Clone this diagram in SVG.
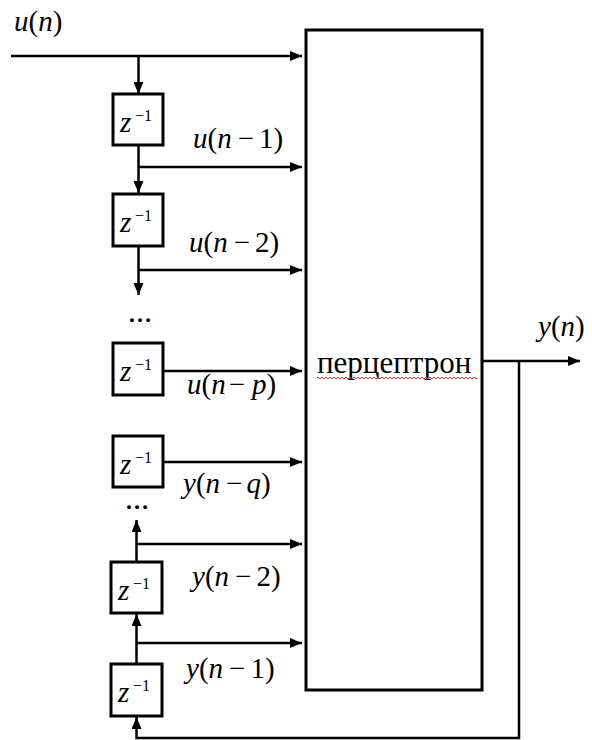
<svg xmlns="http://www.w3.org/2000/svg" width="592" height="740" viewBox="0 0 592 740">
  <style>
    .ln { fill: none; stroke: #000; stroke-width: 2.5; }
    .bx { fill: #fff; stroke: #000; stroke-width: 3; }
    text { font-family: 'Liberation Serif', 'Times New Roman', Tinos, 'Noto Serif', 'DejaVu Serif', FreeSerif, serif; fill: #000; }
    .lbl { font-size: 29px; }
    .i { font-style: italic; }
    .z { font-size: 29px; font-style: italic; }
    .sup { font-size: 16px; }
    .dots { font-size: 24px; font-weight: bold; }
  </style>
  <defs>
    <marker id="arr" viewBox="0 0 12 10" refX="12" refY="5" markerWidth="12" markerHeight="10" markerUnits="userSpaceOnUse" orient="auto">
      <path d="M0,0 L12,5 L0,10 z" fill="#000"/>
    </marker>
  </defs>

  <!-- connectors -->
  <g id="connectors">
    <path class="ln" d="M11,56 H302" marker-end="url(#arr)"/>
    <path class="ln" d="M138.5,56 V94" marker-end="url(#arr)"/>
    <path class="ln" d="M138.5,145 V193" marker-end="url(#arr)"/>
    <path class="ln" d="M138.5,167 H302" marker-end="url(#arr)"/>
    <path class="ln" d="M138.5,246 V295" marker-end="url(#arr)"/>
    <path class="ln" d="M138.5,270 H302" marker-end="url(#arr)"/>
    <path class="ln" d="M164,371 H302" marker-end="url(#arr)"/>
    <path class="ln" d="M164,462 H302" marker-end="url(#arr)"/>
    <path class="ln" d="M136.5,562 V520" marker-end="url(#arr)"/>
    <path class="ln" d="M136.5,544 H302" marker-end="url(#arr)"/>
    <path class="ln" d="M136.5,664 V614" marker-end="url(#arr)"/>
    <path class="ln" d="M136.5,643 H302" marker-end="url(#arr)"/>
    <path class="ln" d="M483,361 H580" marker-end="url(#arr)"/>
    <path class="ln" d="M519,361 V738 H136.5 V717" marker-end="url(#arr)"/>
  </g>

  <!-- perceptron block -->
  <g id="perceptron">
    <rect class="bx" x="306" y="30" width="176" height="660"/>
    <text x="317" y="373" font-size="31">перцептрон</text>
    <path d="M317,378 q1,-2 2,0 t2,0 t2,0 t2,0 t2,0 t2,0 t2,0 t2,0 t2,0 t2,0 t2,0 t2,0 t2,0 t2,0 t2,0 t2,0 t2,0 t2,0 t2,0 t2,0 t2,0 t2,0 t2,0 t2,0 t2,0 t2,0 t2,0 t2,0 t2,0 t2,0 t2,0 t2,0 t2,0 t2,0 t2,0 t2,0 t2,0 t2,0 t2,0 t2,0 t2,0 t2,0 t2,0 t2,0 t2,0 t2,0 t2,0 t2,0 t2,0 t2,0 t2,0 t2,0 t2,0 t2,0 t2,0 t2,0 t2,0 t2,0 t2,0 t2,0 t2,0 t2,0 t2,0 t2,0 t2,0 t2,0 t2,0 t2,0 t2,0 t2,0 t2,0 t2,0 t2,0 t2,0 t2,0 t2,0 t2,0 t2,0 t2,0 t2,0" fill="none" stroke="#e03030" stroke-width="1"/>
  </g>

  <!-- delay elements, input chain -->
  <g id="delay-u1">
    <rect class="bx" x="113" y="94" width="50" height="51"/>
    <text class="z" x="120" y="132">z</text><text class="sup" x="135" y="121">−1</text>
  </g>
  <g id="delay-u2">
    <rect class="bx" x="113" y="194" width="50" height="52"/>
    <text class="z" x="120" y="232">z</text><text class="sup" x="135" y="221">−1</text>
  </g>
  <text class="dots" x="128" y="322">…</text>
  <g id="delay-up">
    <rect class="bx" x="113" y="343" width="50" height="52"/>
    <text class="z" x="120" y="381">z</text><text class="sup" x="135" y="370">−1</text>
  </g>

  <!-- delay elements, feedback chain -->
  <g id="delay-yq">
    <rect class="bx" x="113" y="436" width="50" height="51"/>
    <text class="z" x="120" y="474">z</text><text class="sup" x="135" y="463">−1</text>
  </g>
  <text class="dots" x="125" y="509">…</text>
  <g id="delay-y2">
    <rect class="bx" x="111" y="562" width="51" height="51"/>
    <text class="z" x="118" y="600">z</text><text class="sup" x="133" y="589">−1</text>
  </g>
  <g id="delay-y1">
    <rect class="bx" x="111" y="664" width="51" height="52"/>
    <text class="z" x="118" y="702">z</text><text class="sup" x="133" y="691">−1</text>
  </g>

  <!-- signal labels -->
  <g id="labels">
    <text class="lbl" x="14" y="31"><tspan class="i">u</tspan>(<tspan class="i">n</tspan>)</text>
    <text class="lbl" x="193" y="148"><tspan class="i">u</tspan>(<tspan class="i">n</tspan><tspan dx="6">−</tspan><tspan dx="5">1</tspan>)</text>
    <text class="lbl" x="189" y="252"><tspan class="i">u</tspan>(<tspan class="i">n</tspan><tspan dx="6">−</tspan><tspan dx="5">2</tspan>)</text>
    <text class="lbl" x="187" y="394"><tspan class="i">u</tspan>(<tspan class="i">n</tspan><tspan dx="3">−</tspan><tspan class="i" dx="7">p</tspan>)</text>
    <text class="lbl" x="183" y="493"><tspan class="i">y</tspan>(<tspan class="i">n</tspan><tspan dx="6">−</tspan><tspan class="i" dx="4">q</tspan>)</text>
    <text class="lbl" x="192" y="586"><tspan class="i">y</tspan>(<tspan class="i">n</tspan><tspan dx="6">−</tspan><tspan dx="5">2</tspan>)</text>
    <text class="lbl" x="186" y="678"><tspan class="i">y</tspan>(<tspan class="i">n</tspan><tspan dx="6">−</tspan><tspan dx="5">1</tspan>)</text>
    <text class="lbl" x="538" y="336"><tspan class="i">y</tspan>(<tspan class="i">n</tspan>)</text>
  </g>
</svg>
